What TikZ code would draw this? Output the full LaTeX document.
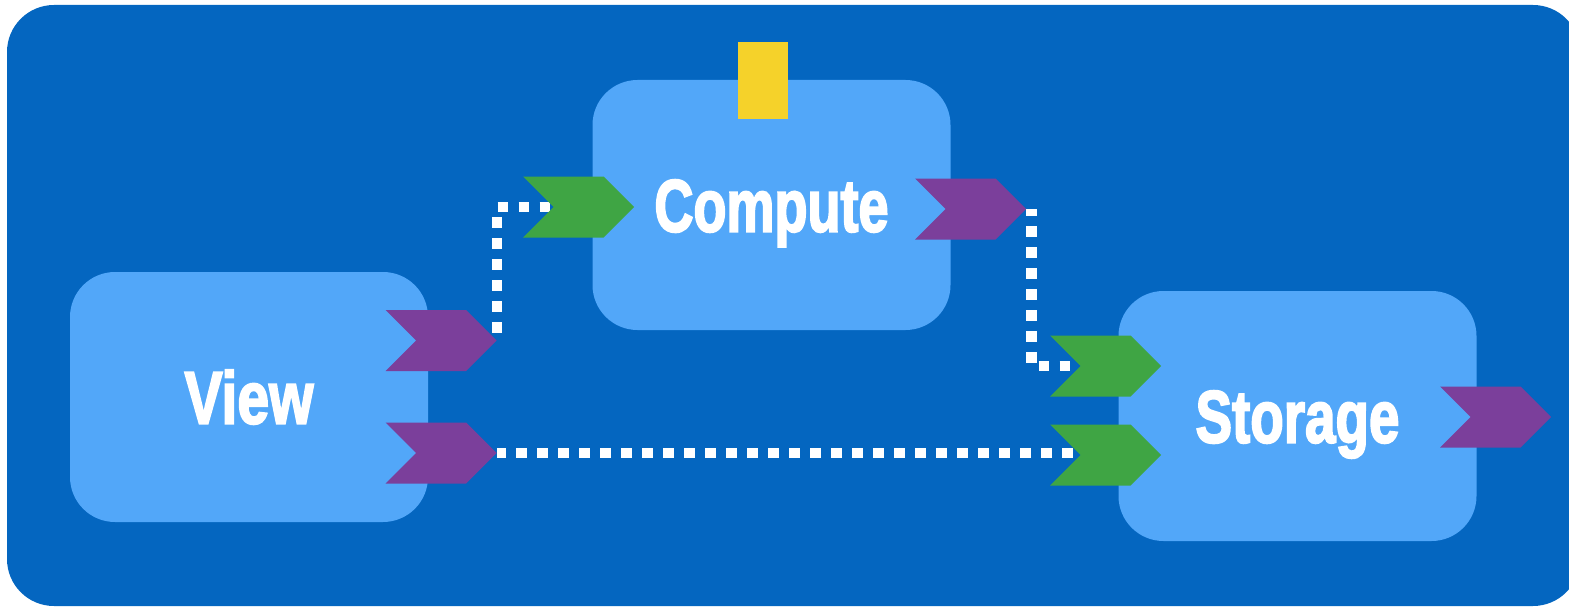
\documentclass[tikz,border=0pt]{standalone}
\usepackage{fontspec}
\usetikzlibrary{shapes.symbols}
\newfontfamily\impfont[FakeBold=3]{Liberation Sans Bold}
\definecolor{frameblue}{HTML}{0466C0}
\definecolor{boxblue}{HTML}{52A7F9}
\definecolor{chevpurple}{HTML}{7B3F9B}
\definecolor{chevgreen}{HTML}{3FA544}
\definecolor{tagyellow}{HTML}{F5D22A}
\tikzset{
  frame/.style={fill=frameblue, draw=none, rounded corners=47pt, minimum width=1573pt, minimum height=601pt, inner sep=0},
  block/.style={fill=boxblue, draw=none, rounded corners=45pt, minimum width=358pt, minimum height=250pt, inner sep=0,
     text=white, font=\impfont\fontsize{74}{74}\selectfont, text height=53pt, text depth=0pt},
  chev/.style={shape=signal, signal from=west, signal to=east, signal pointer angle=90,
     minimum width=111pt, minimum height=61pt, inner sep=0, outer sep=0, draw=none},
  outport/.style={chev, fill=chevpurple},
  inport/.style={chev, fill=chevgreen},
  flow/.style={draw=white, line width=10.5pt, dash pattern=on 10.5pt off 10.5pt},
  tag/.style={fill=tagyellow, draw=none, minimum width=50pt, minimum height=77pt, inner sep=0}
}
\begin{document}
\begin{tikzpicture}[x=1pt,y=-1pt]
\useasboundingbox (0,0) rectangle (1569,607);
\node[frame] (frm) at (793.5,305.5) {};
\node[block] (view) at (249,397) {\scalebox{0.77}[1]{View}};
\node[block] (compute) at (771.5,205) {\scalebox{0.73}[1]{Compute}};
\node[block] (storage) at (1297.5,416) {\scalebox{0.74}[1]{Storage}};
\node[tag] (flag) at (763,80.5) {};
% ports (positions)
\coordinate (pvo1) at (441,340.5);
\coordinate (pvo2) at (441,453);
\coordinate (pci) at (578.5,207);
\coordinate (pco) at (970.5,209);
\coordinate (psi1) at (1105.5,366);
\coordinate (psi2) at (1105.5,455);
\coordinate (pso) at (1495.5,417);
% connectors (behind ports)
\path (pvo1) ++(56,0) coordinate (vo1tip);
\path (pvo2) ++(56,0) coordinate (vo2tip);
\path (pci) ++(-24,0) coordinate (cinotch);
\path (pco) ++(61,0) coordinate (cotip);
\path (psi1) ++(-24,0) coordinate (si1notch);
\path (psi2) ++(-24,0) coordinate (si2notch);
\draw[flow, dash phase=-8pt] (vo1tip) |- (cinotch);
\draw[flow, dash phase=4pt] (cotip) |- (si1notch);
\draw[flow, dash phase=2pt] (vo2tip) -- (vo2tip -| si2notch);
% ports
\node[outport] (vo1) at (pvo1) {};
\node[outport] (vo2) at (pvo2) {};
\node[inport] (ci) at (pci) {};
\node[outport] (co) at (pco) {};
\node[inport] (si1) at (psi1) {};
\node[inport] (si2) at (psi2) {};
\node[outport] (so) at (pso) {};
\end{tikzpicture}
\end{document}
